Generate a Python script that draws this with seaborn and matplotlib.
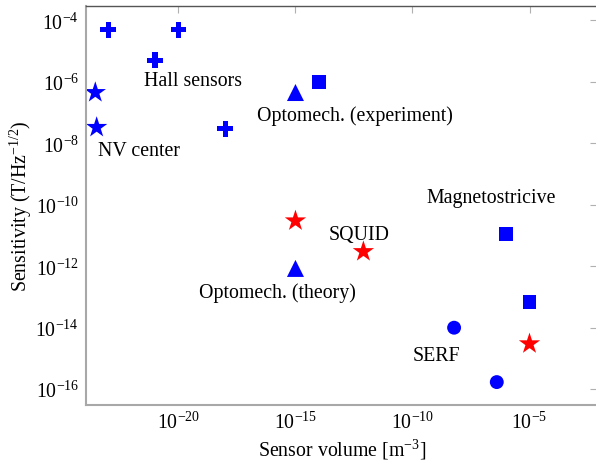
import matplotlib
matplotlib.use("Agg")
import matplotlib.pyplot as plt
import matplotlib.ticker as mticker
import seaborn as sns
import pandas as pd

# --- donnees ---
volume = [1e-23, 1e-20, 1e-21, 1e-18,
          2.8e-24, 3.2e-24,
          1e-15, 1e-14,
          1e-15,
          1e-15, 8e-13, 1e-5,
          9.5e-7, 1e-5,
          6e-9, 4e-7]
sensitivity = [5e-5, 5e-5, 5e-6, 3e-8,
               4.5e-7, 3.3e-8,
               4.5e-7, 1e-6,
               8.5e-13,
               3e-11, 3e-12, 3e-15,
               1.1e-11, 6.8e-14,
               1e-14, 1.7e-16]
marker = ["P", "P", "P", "P",
          "*", "*",
          "^", "s",
          "^",
          "*", "*", "*",
          "s", "s",
          "o", "o"]
couleur = ["blue"] * 9 + ["red"] * 3 + ["blue"] * 4

labels = ["Hall sensors", "NV center", "Optomech. (experiment)", "Magnetostricive",
          "SQUID", "Optomech. (theory)", "SERF"]
label_x = [3.5e-22, 3.7e-24, 2.2e-17, 4e-10, 2.6e-14, 7.9e-20, 1e-10]
label_y = [1.1e-6, 5.8e-9, 8.2e-8, 1.7e-10, 1.1e-11, 1.45e-13, 1.25e-15]

tailles = {"P": 130, "*": 260, "^": 150, "s": 100, "o": 100}

df = pd.DataFrame({"volume": volume, "sensitivity": sensitivity,
                   "marker": marker, "couleur": couleur})

sns.set_style("white")
plt.rcParams["font.family"] = ["Liberation Serif", "DejaVu Serif"]
plt.rcParams["mathtext.fontset"] = "custom"
plt.rcParams["mathtext.rm"] = "Liberation Serif"
plt.rcParams["mathtext.it"] = "Liberation Serif:italic"
plt.rcParams["text.color"] = "black"
plt.rcParams["axes.labelcolor"] = "black"

fig = plt.figure(figsize=(5.96, 4.64), dpi=100)
ax = fig.add_axes([0.1443, 0.126, 0.858, 0.859])

for (m, c), grp in df.groupby(["marker", "couleur"]):
    sns.scatterplot(data=grp, x="volume", y="sensitivity", ax=ax,
                    marker=m, color=c, s=tailles[m], edgecolor="none",
                    linewidth=0, legend=False)

for t, x, y in zip(labels, label_x, label_y):
    ax.text(x, y, t, fontsize=14.3, va="center", ha="left", color="black")

ax.set_xscale("log")
ax.set_yscale("log")
ax.set_xlim(10 ** -23.95, 10 ** -2.1)
ax.set_ylim(10 ** -16.5, 10 ** -3.53)
ax.xaxis.set_major_locator(mticker.FixedLocator([1e-20, 1e-15, 1e-10, 1e-5]))
ax.yaxis.set_major_locator(mticker.FixedLocator([1e-16, 1e-14, 1e-12, 1e-10, 1e-8, 1e-6, 1e-4]))
ax.xaxis.set_minor_locator(mticker.NullLocator())
ax.yaxis.set_minor_locator(mticker.NullLocator())
ax.xaxis.set_major_formatter(mticker.LogFormatterMathtext())
ax.yaxis.set_major_formatter(mticker.LogFormatterMathtext())

ax.tick_params(which="both", direction="in", length=5, color="#b0b0b0",
               labelcolor="black", labelsize=14.3, top=True, right=True, pad=5)
ax.set_xlabel("Sensor volume [m$^{-3}$]", fontsize=14.3, labelpad=3)
ax.set_ylabel("Sensitivity (T/Hz$^{-1/2}$)", fontsize=14.3, labelpad=1)

for s in ["left", "bottom"]:
    ax.spines[s].set_color("#a8a8a8")
    ax.spines[s].set_linewidth(1.5)
ax.spines["top"].set_color("#555555")
ax.spines["top"].set_linewidth(1.0)
ax.spines["right"].set_visible(False)

fig.savefig("out.png", dpi=100)
